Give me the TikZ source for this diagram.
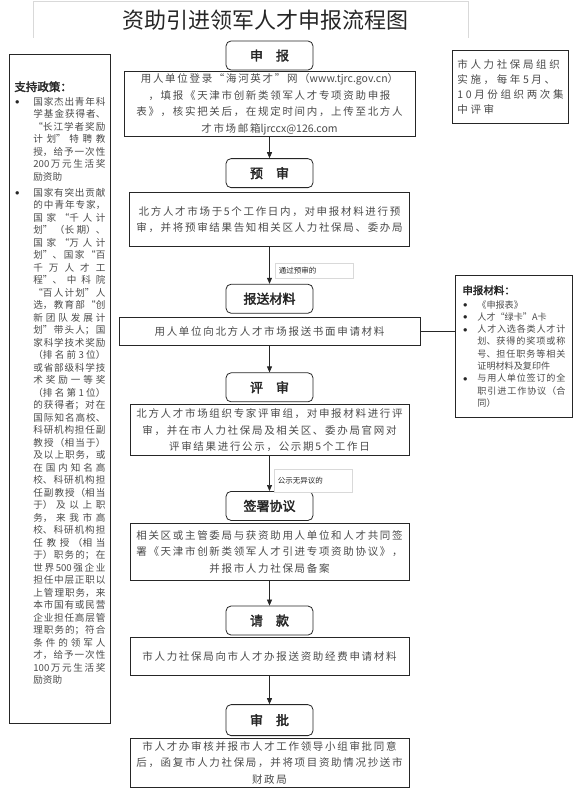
\documentclass[tikz,border=0pt]{standalone}
\usepackage{fontspec}
\setmainfont{Noto Sans CJK SC}[AutoFakeBold=2.5]
\newfontfamily\bodyfont{Noto Sans CJK SC}[LetterSpace=16]
\newfontfamily\symfont{DejaVu Sans}
\usetikzlibrary{arrows.meta, positioning}
\XeTeXlinebreaklocale "zh"
\XeTeXlinebreakskip=0pt plus 2pt
\definecolor{ink}{HTML}{262626}
\definecolor{txt}{HTML}{4A4A4A}
\definecolor{rim}{HTML}{D9D9D9}
\newcommand{\lnbrk}{\unskip\break}
\newcommand{\pbul}[2]{\par\noindent\hangindent=#1\hangafter=1\makebox[#1][l]{\hspace{1pt}\raisebox{1.6pt}{\symfont\fontsize{4.5}{5}\selectfont\color{ink}●}}#2\par}
\tikzset{
	head/.style={draw=ink, line width=0.8pt, rounded corners=5pt, minimum width=87pt,
		minimum height=29pt, inner sep=0pt, font=\fontsize{13}{15}\selectfont\bfseries, text=ink},
	desc/.style={draw=ink, line width=0.8pt, minimum width=279pt, align=center,
		inner sep=2pt, text=txt, font=\bodyfont\fontsize{10.5}{16.5}\selectfont},
	side/.style={draw=ink, line width=0.8pt, inner sep=5pt, text=txt},
	tag/.style={draw=rim, fill=white, inner sep=4pt, text width=70pt,
		font=\fontsize{7.5}{9}\selectfont, text=ink},
	arr/.style={-{Triangle[length=6pt, width=5pt]}, line width=0.7pt, ink},
}

\begin{document}
\begin{tikzpicture}[x=1pt, y=-1pt]
	\useasboundingbox (0,0) rectangle (579,800);
	\draw[rim] (33,38) |- (468,1) -- (468,38);
	\node[font=\fontsize{22}{24}\selectfont, text=ink] (title) at (265.5,20) {资助引进领军人才申报流程图};
	% main column
	\node[head] (shenbao) at (269.5,55.5) {申\hspace{1em}报};
	\node[desc, minimum width=291pt, minimum height=65pt, below=1pt of shenbao] (d1) {用人单位登录“海河英才”网（{\addfontfeature{LetterSpace=0}www.tjrc.gov.cn}）\\，填报《天津市创新类领军人才专项资助申报\\表》，核实把关后，在规定时间内，上传至北方人\\才市场邮箱{\addfontfeature{LetterSpace=0}ljrccx@126.com}};
	\node[head, below=21pt of d1] (yushen) {预\hspace{1em}审};
	\node[desc, minimum width=280pt, minimum height=54pt, below=4pt of yushen] (d2) {北方人才市场于5个工作日内，对申报材料进行预\\审，并将预审结果告知相关区人力社保局、委办局};
	\node[head, below=37pt of d2] (baosong) {报送材料};
	\node[desc, minimum width=301pt, minimum height=28pt, below=3pt of baosong] (d3) {用人单位向北方人才市场报送书面申请材料};
	\node[head, below=27pt of d3] (pingshen) {评\hspace{1em}审};
	\node[desc, minimum height=51pt, below=2pt of pingshen] (d4) {北方人才市场组织专家评审组，对申报材料进行评\\审，并在市人力社保局及相关区、委办局官网对\\评审结果进行公示，公示期5个工作日};
	\node[head, below=35pt of d4] (qianshu) {签署协议};
	\node[desc, minimum height=57pt, below=2pt of qianshu] (d5) {相关区或主管委局与获资助用人单位和人才共同签\\署《天津市创新类领军人才引进专项资助协议》，\\并报市人力社保局备案};
	\node[head, below=25pt of d5] (qingkuan) {请\hspace{1em}款};
	\node[desc, minimum height=38pt, below=2pt of qingkuan] (d6) {市人力社保局向市人才办报送资助经费申请材料};
	\node[head, minimum height=31pt, below=28pt of d6] (shenpi) {审\hspace{1em}批};
	\node[desc, minimum height=49pt, below=2pt of shenpi] (d7) {市人才办审核并报市人才工作领导小组审批同意\\后，函复市人力社保局，并将项目资助情况抄送市\\财政局};
	% side boxes
	\node[side, anchor=north west, font=\fontsize{9.6}{12.5}\selectfont] (policy) at (9,54) {\parbox[t][659pt][t]{91pt}{\XeTeXlinebreakskip=0pt plus 1fil\parfillskip=0pt plus 1fill\vspace*{22pt}
		{\bfseries\fontsize{11.5}{14}\selectfont\color{ink}支持政策：}\par\vspace{1.5pt}
		\pbul{19pt}{国家杰出青年科\lnbrk 学基金获得者、\lnbrk “长江学者奖励\lnbrk 计划”特聘教\lnbrk 授，给予一次性\lnbrk 200万元生活奖\lnbrk 励资助}\vspace{3.5pt}
		\pbul{19pt}{国家有突出贡献\lnbrk 的中青年专家，\lnbrk 国家“千人计\lnbrk 划”（长期）、\lnbrk 国家“万人计\lnbrk 划”、国家“百\lnbrk 千万人才工\lnbrk 程”、中科院\lnbrk “百人计划”人\lnbrk 选，教育部“创\lnbrk 新团队发展计\lnbrk 划”带头人；国\lnbrk 家科学技术奖励\lnbrk （排名前3位）\lnbrk 或省部级科学技\lnbrk 术奖励一等奖\lnbrk （排名第1位）\lnbrk 的获得者；对在\lnbrk 国际知名高校、\lnbrk 科研机构担任副\lnbrk 教授（相当于）\lnbrk 及以上职务，或\lnbrk 在国内知名高\lnbrk 校、科研机构担\lnbrk 任副教授（相当\lnbrk 于）及以上职\lnbrk 务，来我市高\lnbrk 校、科研机构担\lnbrk 任教授（相当\lnbrk 于）职务的；在\lnbrk 世界500强企业\lnbrk 担任中层正职以\lnbrk 上管理职务，来\lnbrk 本市国有或民营\lnbrk 企业担任高层管\lnbrk 理职务的；符合\lnbrk 条件的领军人\lnbrk 才，给予一次性\lnbrk 100万元生活奖\lnbrk 励资助}}};
	\node[side, align=left, minimum width=112pt, minimum height=73pt, anchor=north west,
		font=\bodyfont\fontsize{10.5}{15}\selectfont\addfontfeature{LetterSpace=25}] (note) at (452,50) {市人力社保局组织\\实施，每年5月、\\10月份组织两次集\\中评审};
	\node[side, inner sep=7pt, minimum height=142pt, anchor=north west,
		font=\fontsize{9.1}{12.3}\selectfont] (cailiao) at (455,275) {\parbox{103pt}{\XeTeXlinebreakskip=0pt plus 1fil\parfillskip=0pt plus 1fill
		{\bfseries\fontsize{10.5}{13}\selectfont\color{ink}申报材料：}\par\vspace{1.5pt}
		\pbul{15pt}{《申报表》}
		\pbul{15pt}{人才“绿卡”A卡}
		\pbul{15pt}{人才入选各类人才计\lnbrk 划、获得的奖项或称\lnbrk 号、担任职务等相关\lnbrk 证明材料及复印件}
		\pbul{15pt}{与用人单位签订的全\lnbrk 职引进工作协议（合\lnbrk 同）}}};
	\draw[ink, line width=0.8pt] (d3.east) -- (d3.east -| cailiao.west);
	% arrows
	\foreach \a/\b in {d1/yushen, d3/pingshen, d5/qingkuan, d6/shenpi}
	\draw[arr] (\a) -- (\b);
	\draw[arr] (d2) -- node[tag, pos=0.64, anchor=west, xshift=5pt] (pass) {通过预审的} (baosong);
	\draw[arr] (d4) -- node[tag, pos=0.7, anchor=west, xshift=4pt, minimum height=23pt] (noobj) {公示无异议的} (qianshu);
\end{tikzpicture}
\end{document}
